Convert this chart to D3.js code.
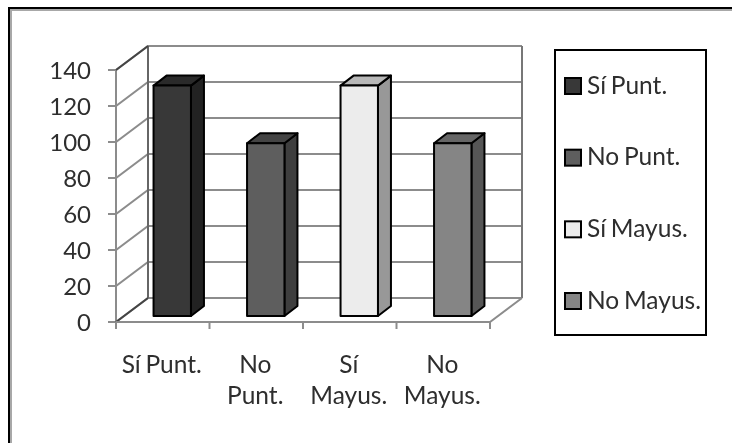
<!DOCTYPE html>
<html><head><meta charset="utf-8">
<script src="https://cdn.jsdelivr.net/npm/d3@7"></script>
<style>html,body{margin:0;padding:0;background:#fff}svg{display:block;filter:blur(0.4px)}text{font-family:Lato,sans-serif;fill:#2e2e2e;word-spacing:-1.5px}</style>
</head><body><svg id="c" width="732" height="443"></svg>
<script>
const categories=[["Sí Punt."],["No","Punt."],["Sí","Mayus."],["No","Mayus."]];
const legendLabels=["Sí Punt.","No Punt.","Sí Mayus.","No Mayus."];
const values=[128,96,128,96];
const yTicks=[0,20,40,60,80,100,120,140];
const frontColors=["#383838","#5e5e5e","#ececec","#858585"];
const sideColors=["#222222","#3e3e3e","#989898","#565656"];
const topColors=["#2a2a2a","#444444","#b8b8b8","#666666"];
const svg=d3.select("#c");
const grid="#8c8c8c";
const dx=32,dy=-24;               // floor depth
const bx=13,by=-10,ox=9.5,oy=-6;  // bar depth, bar offset on floor
const x=d3.scaleBand().domain(d3.range(4)).range([116,490]).paddingInner(0.6).paddingOuter(0.3);
const xTick=d3.scalePoint().domain(d3.range(5)).range([116,490]);
const y=d3.scaleLinear().domain([0,140]).range([322,70]);
// outer frame
svg.append("path").attr("d","M10.5,443V9.5H732").attr("fill","none").attr("stroke","#a8a8a8").attr("stroke-width",3);
svg.append("path").attr("d","M9,443V8H732").attr("fill","none").attr("stroke","#000").attr("stroke-width",2);
// gridlines: back wall + side wall
svg.append("g").selectAll("path").data(yTicks).join("path")
 .attr("d",v=>`M108,${y(v)}H116L${116+dx},${y(v)+dy}H${490+dx}`)
 .attr("fill","none").attr("stroke",grid).attr("stroke-width",2);
// walls
svg.append("path").attr("d",`M${116+dx},${y(140)+dy}V${y(0)+dy}`).attr("stroke","#666").attr("stroke-width",2);
svg.append("path").attr("d",`M${490+dx},${y(140)+dy}V${y(0)+dy}`).attr("stroke","#777").attr("stroke-width",2);
svg.append("path").attr("d",`M116,${y(140)}V${y(0)}`).attr("stroke",grid).attr("stroke-width",2);
// dark edges of the side wall top and floor
svg.append("path").attr("d",`M116,${y(140)}L${116+dx},${y(140)+dy}`).attr("stroke","#444").attr("stroke-width",2);
svg.append("path").attr("d",`M116,${y(0)}L${116+dx},${y(0)+dy}`).attr("stroke","#444").attr("stroke-width",2);
// floor
svg.append("path").attr("d",`M116,${y(0)}H490L${490+dx},${y(0)+dy}`).attr("fill","none").attr("stroke",grid).attr("stroke-width",2);
svg.append("g").selectAll("path").data(d3.range(5)).join("path")
 .attr("d",i=>`M${xTick(i)},${y(0)}v7`).attr("stroke",grid).attr("stroke-width",2);
// y labels
svg.append("g").selectAll("text").data(yTicks).join("text")
 .attr("x",91).attr("y",v=>y(v)+9).attr("text-anchor","end").attr("font-size",24).text(d=>d);
// bars
const bars=svg.append("g").selectAll("g").data(values).join("g").attr("stroke","#000").attr("stroke-width",2).attr("stroke-linejoin","round");
bars.append("path").attr("fill",(d,i)=>sideColors[i]).attr("d",(d,i)=>{
 const r=x(i)+ox+x.bandwidth(),b=y(0)+oy,t=y(d)+oy;
 return `M${r},${b}V${t}l${bx},${by}V${b+by}Z`;});
bars.append("path").attr("fill",(d,i)=>topColors[i]).attr("d",(d,i)=>{
 const l=x(i)+ox,t=y(d)+oy;
 return `M${l},${t}l${bx},${by}h${x.bandwidth()}l${-bx},${-by}Z`;});
bars.append("rect").attr("fill",(d,i)=>frontColors[i])
 .attr("x",(d,i)=>x(i)+ox).attr("y",d=>y(d)+oy).attr("width",x.bandwidth()).attr("height",d=>y(0)-y(d));
// category labels
svg.append("g").selectAll("text").data(categories).join("text")
 .attr("text-anchor","middle").attr("font-size",24.5)
 .attr("transform",(d,i)=>`translate(${(xTick(i)+xTick(i+1))/2-1},373)`)
 .selectAll("tspan").data(d=>d).join("tspan").attr("x",0).attr("dy",(d,i)=>i?31:0).text(d=>d);
// legend
svg.append("rect").attr("x",555).attr("y",50).attr("width",151).attr("height",285).attr("fill","#fff").attr("stroke","#000").attr("stroke-width",2);
const ly=d3.scalePoint().domain(d3.range(4)).range([86,301]);
const lg=svg.append("g").selectAll("g").data(legendLabels).join("g").attr("transform",(d,i)=>`translate(0,${ly(i)})`);
lg.append("rect").attr("x",565).attr("y",-8).attr("width",16).attr("height",16).attr("fill",(d,i)=>frontColors[i]).attr("stroke","#000").attr("stroke-width",2);
lg.append("text").attr("x",587).attr("y",7.5).attr("font-size",24.5).text(d=>d);
</script></body></html>
